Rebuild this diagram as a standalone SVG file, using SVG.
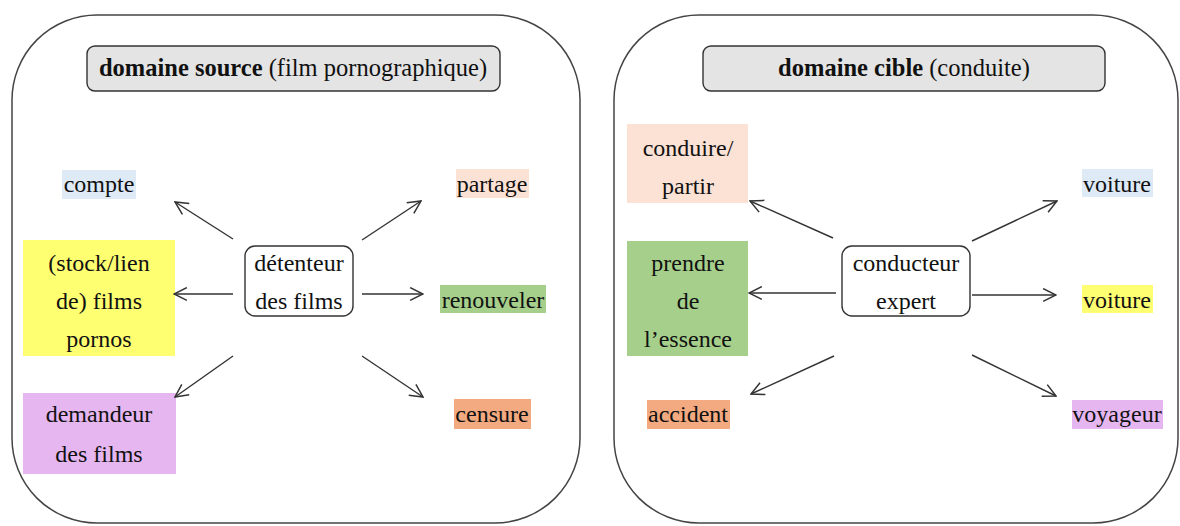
<svg xmlns="http://www.w3.org/2000/svg" width="1180" height="526" viewBox="0 0 1180 526">
<defs>
<marker id="arr" viewBox="0 0 14 14" refX="13" refY="7" markerWidth="15" markerHeight="15" markerUnits="userSpaceOnUse" orient="auto">
<path d="M1,1 L13,7 L1,13" fill="none" stroke="#333" stroke-width="1.4"/>
</marker>
<style>
text{font-family:"Liberation Serif","Times New Roman",serif;font-size:24px;fill:#111;text-anchor:middle}
.b{font-weight:bold}
.panel{fill:#fff;stroke:#444;stroke-width:1.5}
.title{fill:#e4e4e4;stroke:#333;stroke-width:1.4}
.node{fill:#fff;stroke:#333;stroke-width:1.4}
.conn line{stroke:#333;stroke-width:1.4;marker-end:url(#arr)}
</style>
</defs>
<rect x="0" y="0" width="1180" height="526" fill="#fff"/>
<g id="panel-source">
<rect class="panel" x="12" y="15" width="568" height="508" rx="85" ry="85"/>
</g>
<g id="panel-cible">
<rect class="panel" x="614" y="15" width="564" height="508" rx="85" ry="85"/>
</g>
<g id="title-source">
<rect class="title" x="87" y="46" width="413" height="45" rx="8"/>
<text x="293" y="76" style="font-size:24.5px"><tspan class="b">domaine source</tspan> (film pornographique)</text>
</g>
<g id="title-cible">
<rect class="title" x="703" y="46" width="402" height="45" rx="8"/>
<text x="904" y="76" style="font-size:24.5px"><tspan class="b">domaine cible</tspan> (conduite)</text>
</g>
<g id="detenteur">
<rect class="node" x="245" y="246" width="108" height="70" rx="10"/>
<text x="299" y="271">détenteur</text>
<text x="299" y="309">des films</text>
</g>
<g id="compte">
<rect x="62" y="170" width="74" height="29" fill="#deeaf6"/>
<text x="99" y="192">compte</text>
</g>
<g id="stock">
<rect x="23" y="240" width="152" height="116" fill="#ffff72"/>
<text x="99" y="271">(stock/lien</text>
<text x="99" y="309">de) films</text>
<text x="99" y="347">pornos</text>
</g>
<g id="demandeur">
<rect x="23" y="393" width="153" height="81" fill="#e6b6f0"/>
<text x="99" y="422">demandeur</text>
<text x="99" y="462">des films</text>
</g>
<g id="partage">
<rect x="456" y="169" width="73" height="29" fill="#fbe2d5"/>
<text x="492" y="192">partage</text>
</g>
<g id="renouveler">
<rect x="440" y="285" width="106" height="28" fill="#a6cf8b"/>
<text x="493" y="308">renouveler</text>
</g>
<g id="censure">
<rect x="454" y="399" width="77" height="30" fill="#f4aa80"/>
<text x="492" y="422">censure</text>
</g>
<g id="conducteur">
<rect class="node" x="842" y="246" width="128" height="70" rx="10"/>
<text x="906" y="271">conducteur</text>
<text x="906" y="309">expert</text>
</g>
<g id="conduire">
<rect x="627" y="124" width="121" height="79" fill="#fbe2d5"/>
<text x="688" y="156">conduire/</text>
<text x="688" y="194">partir</text>
</g>
<g id="essence">
<rect x="627" y="241" width="121" height="115" fill="#a6cf8b"/>
<text x="688" y="271">prendre</text>
<text x="688" y="309">de</text>
<text x="688" y="347">l’essence</text>
</g>
<g id="accident">
<rect x="647" y="400" width="83" height="29" fill="#f4aa80"/>
<text x="688" y="422">accident</text>
</g>
<g id="voiture1">
<rect x="1082" y="169" width="71" height="28" fill="#deeaf6"/>
<text x="1117" y="192">voiture</text>
</g>
<g id="voiture2">
<rect x="1082" y="285" width="71" height="28" fill="#ffff72"/>
<text x="1117" y="308">voiture</text>
</g>
<g id="voyageur">
<rect x="1072" y="400" width="91" height="29" fill="#e6b6f0"/>
<text x="1117" y="422">voyageur</text>
</g>
<g id="connectors" class="conn">
<line x1="233" y1="239" x2="175" y2="202"/>
<line x1="233" y1="294" x2="174" y2="294"/>
<line x1="233" y1="356" x2="175" y2="397"/>
<line x1="362" y1="240" x2="421" y2="201"/>
<line x1="362" y1="294" x2="423" y2="294"/>
<line x1="362" y1="356" x2="423" y2="397"/>
<line x1="833" y1="238" x2="750" y2="201"/>
<line x1="836" y1="293" x2="749" y2="293"/>
<line x1="834" y1="356" x2="751" y2="394"/>
<line x1="972" y1="241" x2="1057" y2="201"/>
<line x1="972" y1="295" x2="1056" y2="295"/>
<line x1="972" y1="355" x2="1056" y2="396"/>
</g>
</svg>
